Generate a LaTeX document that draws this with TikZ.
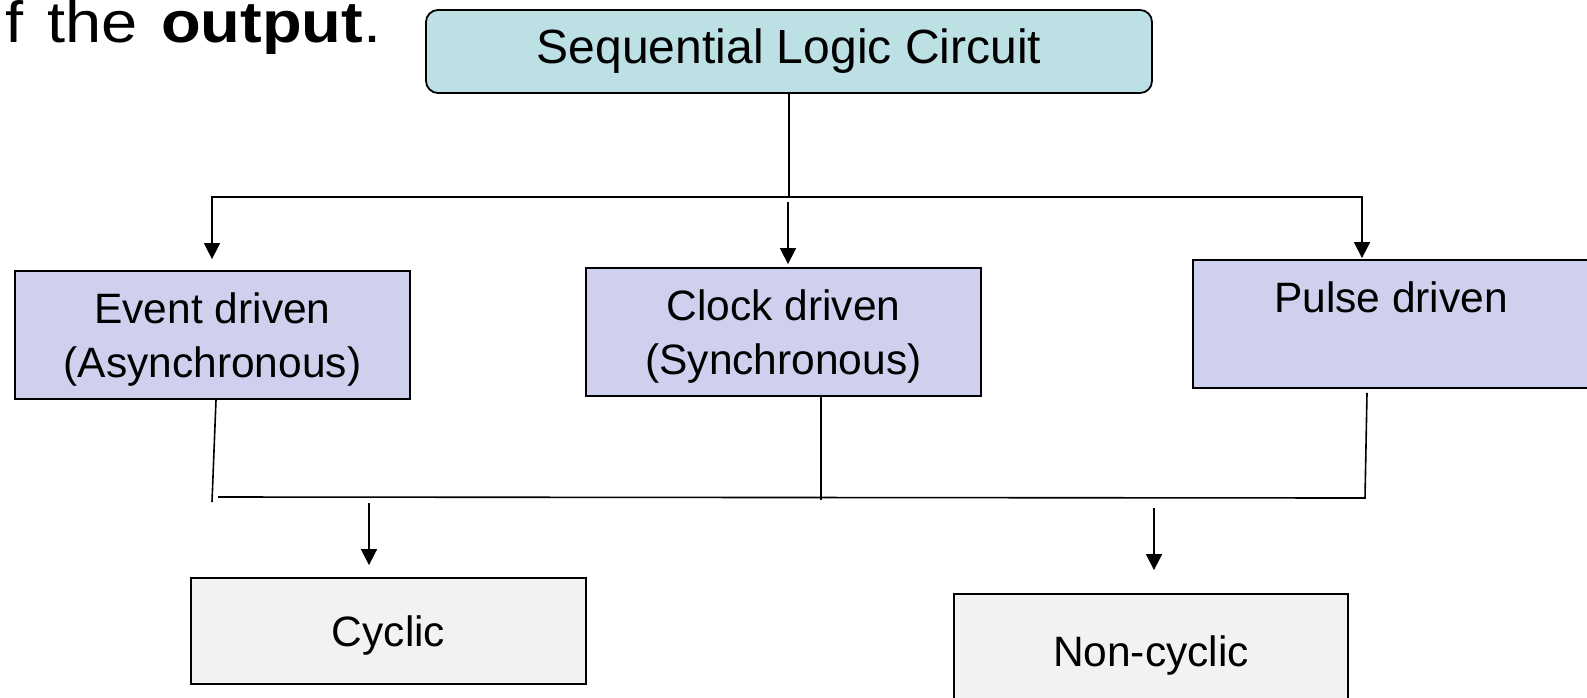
\documentclass[tikz,border=0pt]{standalone}
\usepackage{fontspec}
\setmainfont{Liberation Sans}
\newfontfamily\titlefont[WordSpace=1.3]{Liberation Sans}
\usetikzlibrary{arrows.meta,calc}
\definecolor{tealfill}{RGB}{188,224,228}
\definecolor{lavfill}{RGB}{207,208,238}
\definecolor{grayfill}{RGB}{242,242,242}
\begin{document}
\begin{tikzpicture}[x=1pt,y=-1pt,line width=1.6pt,
  box/.style={draw=black,line width=1.8pt,inner sep=0pt,align=center,text depth=0pt,
    font=\fontsize{42.5}{54}\selectfont},
  tip/.tip={Triangle[width=16pt,length=16pt]},
  arr/.style={-tip}]
\useasboundingbox (0,0) rectangle (1587,697);
\node[anchor=base west,inner sep=0pt,font=\titlefont\fontsize{58}{64}\selectfont] (title) at (5,42)
  {\scalebox{1.12}[1]{f the \textbf{output}.}};
\node[box,fill=tealfill,rounded corners=12pt,minimum width=726pt,minimum height=83pt,
  text depth=,font=\fontsize{48}{54}\selectfont] (top) at (789,51.5) {Sequential Logic Circuit};
\node[box,fill=lavfill,minimum width=395pt,minimum height=128pt] (event) at (212.5,335)
  {Event driven\\(Asynchronous)};
\node[box,fill=lavfill,minimum width=395pt,minimum height=128pt] (clock) at (783.5,332)
  {Clock driven\\(Synchronous)};
\node[box,fill=lavfill,minimum width=396pt,minimum height=128pt] (pulse) at (1391,324)
  {Pulse driven\\\mbox{}};
\node[box,fill=grayfill,minimum width=395pt,minimum height=106pt] (cyclic) at (388.5,631)
  {Cyclic};
\node[box,fill=grayfill,minimum width=394pt,minimum height=114pt] (noncyc) at (1151,651)
  {Non-cyclic};
% upper connectors
\coordinate (busL) at (212,197);
\coordinate (busR) at (1362,197);
\draw (top.south) -- (top.south |- busL);
\draw[tip-tip,shorten <=1pt,shorten >=11pt] (busR |- pulse.north) -- (busR) -- (busL) -- (busL |- event.north);
\coordinate (cArr) at (788,202);
\draw[arr,shorten >=3pt] (cArr) -- (cArr |- clock.north);
% lower connectors
\coordinate (evEnd) at (212,502);
\draw ([xshift=3.5pt]event.south) -- (evEnd);
\coordinate (clEnd) at (821,500);
\draw ([yshift=2pt]clock.south -| clEnd) -- (clEnd);
\coordinate (busB) at (218,497);
\coordinate (pulseBot) at (1365,498);
\draw ([xshift=-24pt,yshift=-4pt]pulse.south) -- (pulseBot) -- (busB);
\coordinate (cyStart) at (369,503);
\draw[arr,shorten >=12pt] (cyStart) -- (cyStart |- cyclic.north);
\coordinate (ncStart) at (1154,508);
\draw[arr,shorten >=23pt] (ncStart) -- (ncStart |- noncyc.north);
\end{tikzpicture}
\end{document}
